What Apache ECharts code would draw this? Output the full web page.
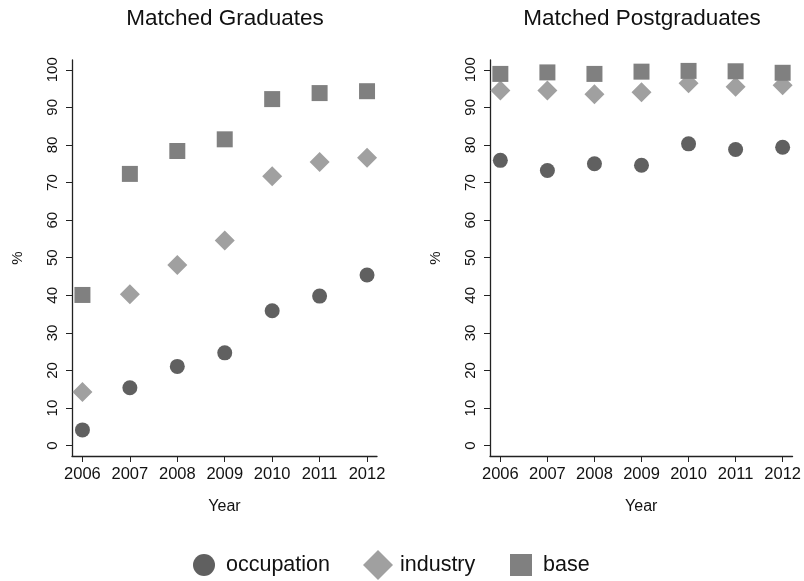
<!DOCTYPE html>
<html>
<head>
<meta charset="utf-8">
<script src="https://cdn.jsdelivr.net/npm/echarts@6/dist/echarts.min.js"></script>
<style>
  html, body { margin: 0; padding: 0; background: #fff; }
  #chart { width: 804px; height: 581px; }
</style>
</head>
<body>
<div id="chart"></div>
<script>
// data
const years = [2006, 2007, 2008, 2009, 2010, 2011, 2012]
const yTicks = [0, 10, 20, 30, 40, 50, 60, 70, 80, 90, 100]

// Matched Graduates
const gradOccupation = [4.2, 15.4, 21.1, 24.7, 35.9, 39.8, 45.4]
const gradIndustry = [14.3, 40.3, 48.1, 54.6, 71.7, 75.5, 76.6]
const gradBase = [40.1, 72.3, 78.4, 81.5, 92.2, 93.8, 94.3]

// Matched Postgraduates
const postOccupation = [75.9, 73.2, 75.0, 74.6, 80.3, 78.8, 79.4]
const postIndustry = [94.5, 94.5, 93.5, 94.0, 96.4, 95.5, 95.9]
const postBase = [98.9, 99.3, 98.9, 99.5, 99.7, 99.6, 99.2]

const FONT = '"Liberation Sans", Arial, sans-serif'
const cOcc = '#606060'
const cInd = '#a0a0a0'
const cBase = '#808080'

const pairs = vals => vals.map((v, i) => [years[i], v])

const xAx = idx => ({
  type: 'value',
  gridIndex: idx,
  min: 2005.78,
  max: 2012.21,
  name: 'Year',
  nameLocation: 'middle',
  nameGap: 43,
  nameTextStyle: {color: '#111', fontFamily: FONT, fontSize: 16},
  axisLine: {onZero: false, lineStyle: {color: '#222', width: 1.3}},
  axisTick: {show: true, length: 6, customValues: years, lineStyle: {color: '#222'}},
  axisLabel: {
    customValues: years, margin: 10, color: '#111', fontFamily: FONT, fontSize: 16.5,
    formatter: v => String(v)
  },
  splitLine: {show: false}
})

const yAx = idx => ({
  type: 'value',
  gridIndex: idx,
  min: -2.74,
  max: 102.6,
  name: '%',
  nameLocation: 'middle',
  nameRotate: 90,
  nameGap: 47,
  nameTextStyle: {color: '#111', fontFamily: FONT, fontSize: 15},
  axisLine: {show: true, onZero: false, lineStyle: {color: '#222', width: 1.3}},
  axisTick: {show: true, length: 6, customValues: yTicks, lineStyle: {color: '#222'}},
  axisLabel: {
    customValues: yTicks, rotate: 90, margin: 12, color: '#111', fontFamily: FONT, fontSize: 15
  },
  splitLine: {show: false}
})

const scatter = (name, idx, vals, symbol, size, color) => ({
  name: name,
  type: 'scatter',
  xAxisIndex: idx,
  yAxisIndex: idx,
  symbol: symbol,
  symbolSize: size,
  itemStyle: {color: color, opacity: 1},
  emphasis: {disabled: true},
  data: pairs(vals)
})

const legendItem = (name, left, top, size, padLeft) => ({
  data: [name],
  left: left,
  top: top,
  padding: 0,
  itemWidth: size,
  itemHeight: size,
  selectedMode: false,
  textStyle: {color: '#111', fontFamily: FONT, fontSize: 21.5, padding: [0, 0, 0, padLeft]}
})

const chart = echarts.init(document.getElementById('chart'))

chart.setOption({
  animation: false,
  backgroundColor: '#fff',
  title: [
    {text: 'Matched Graduates', left: 225, top: 7, padding: 0, textAlign: 'center',
      textStyle: {color: '#111', fontFamily: FONT, fontSize: 22.5, fontWeight: 'normal'}},
    {text: 'Matched Postgraduates', left: 642, top: 7, padding: 0, textAlign: 'center',
      textStyle: {color: '#111', fontFamily: FONT, fontSize: 22.5, fontWeight: 'normal'}}
  ],
  legend: [
    legendItem('occupation', 193, 554, 22, 6),
    legendItem('industry', 363, 550, 30, 2),
    legendItem('base', 510, 554, 22, 6)
  ],
  grid: [
    {left: 72, top: 60, width: 305, height: 396},
    {left: 490, top: 60, width: 305, height: 396}
  ],
  xAxis: [xAx(0), xAx(1)],
  yAxis: [yAx(0), yAx(1)],
  series: [
    scatter('occupation', 0, gradOccupation, 'circle', 15, cOcc),
    scatter('industry', 0, gradIndustry, 'diamond', 20, cInd),
    scatter('base', 0, gradBase, 'rect', 16, cBase),
    scatter('occupation', 1, postOccupation, 'circle', 15, cOcc),
    scatter('industry', 1, postIndustry, 'diamond', 20, cInd),
    scatter('base', 1, postBase, 'rect', 16, cBase)
  ]
})
</script>
</body>
</html>
